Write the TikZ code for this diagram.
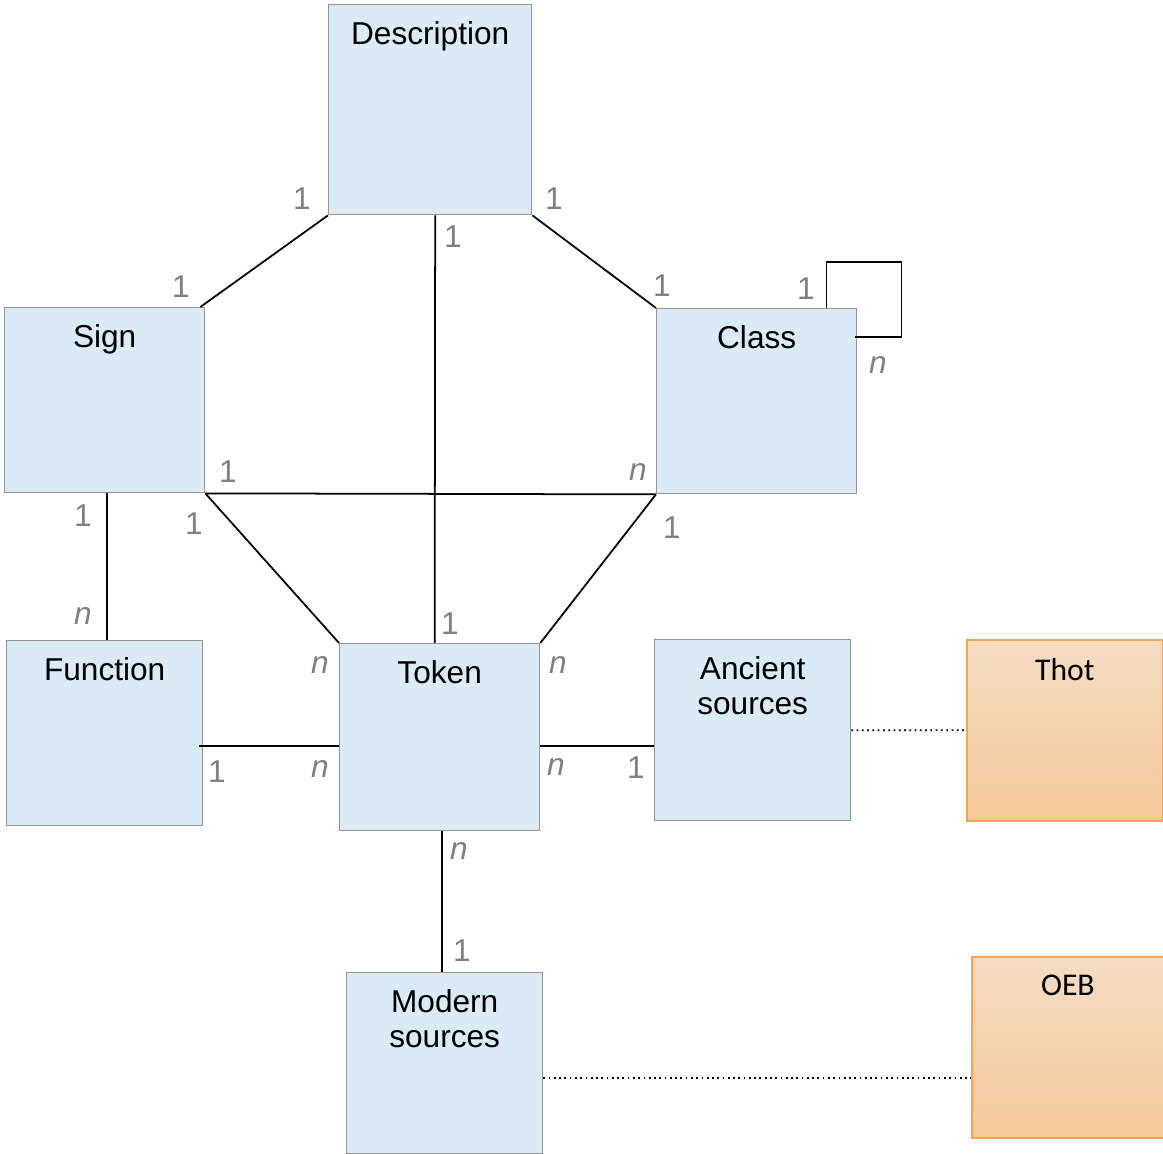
\documentclass[tikz,border=0pt]{standalone}
\usepackage{fontspec}
\setmainfont{Liberation Sans}
\newfontfamily\calibri{Carlito}
\usepackage{tikz}
\usetikzlibrary{positioning,calc,shadings}
\definecolor{cEnt}  {HTML}{DAEBF6}
\definecolor{cEdge} {HTML}{959595}
\definecolor{cSrc}  {HTML}{F7A356}
\definecolor{cSrcT} {HTML}{F4DCC3}
\definecolor{cSrcB} {HTML}{F4C99A}
\definecolor{cLbl}  {HTML}{808080}
\tikzset{
  ent/.style={draw=cEdge,fill=cEnt,line width=0.8pt,inner sep=0pt,
              minimum width=4cm,minimum height=3.7cm,anchor=north west},
  esrc/.style={ent,minimum width=3.92cm,minimum height=3.62cm},
  ext/.style ={esrc,draw=cSrc,top color=cSrcT,bottom color=cSrcB,line width=1pt},
  ttl/.style ={anchor=north,inner sep=0pt,align=center,yshift=-0.34cm,
               font=\fontsize{18}{20}\selectfont},
  xttl/.style={ttl,yshift=-0.04cm,font=\calibri\fontsize{18}{20}\selectfont},
  mult/.style={text=cLbl,inner sep=0pt,font=\fontsize{18}{20}\selectfont},
  multn/.style={mult,font=\fontsize{18}{20}\selectfont\itshape},
  link/.style={line width=1pt},
  dots/.style={line width=1pt,dotted},
}
\begin{document}
\begin{tikzpicture}[x=0.02cm,y=-0.02cm]
  \useasboundingbox (0,0) rectangle (1163,1153);
  \node[ent,minimum width=4.06cm,minimum height=4.2cm,label={[ttl]north:Description}] (desc) at (328,4) {};
  \node[ent,label={[ttl]north:Sign}] (sign) at (4,307) {};
  \node[ent,label={[ttl]north:Class}] (cls) at (656,308) {};
  \node[ent,minimum width=3.92cm,label={[ttl]north:Function}] (fun) at (6,640) {};
  \node[ent,minimum height=3.74cm,label={[ttl]north:Token}] (tok) at (339,643) {};
  \node[esrc,label={[ttl]north:Ancient\\sources}] (anc) at (654,639) {};
  \node[esrc,label={[ttl]north:Modern\\sources}] (mod) at (346,972) {};
  \node[ext,label={[xttl]north:Thot}] (thot) at (966,639) {};
  \node[ext,minimum width=3.84cm,label={[xttl]north:OEB}] (oeb) at (971,956) {};

  \draw[link] (desc.south west) -- ([xshift=-0.1cm]sign.north east);
  \draw[link] (desc.south east) -- (cls.north west);
  \draw[link] ([xshift=0.1cm]desc.south) -- ([xshift=-0.1cm]tok.north);
  \draw[link] (sign.south east) -- (cls.south west);
  \draw[link] (sign.south east) -- (tok.north west);
  \draw[link] (cls.south west) -- (tok.north east);
  \draw[link] ([xshift=0.04cm]sign.south) -- ([xshift=0.04cm]sign.south |- fun.north);
  \draw[link] ([yshift=-0.17cm]tok.west) -- ([yshift=-0.17cm,xshift=-0.08cm]tok.west -| fun.east);
  \draw[link] ([yshift=-0.17cm]tok.east) -- ([yshift=-0.17cm]tok.east -| anc.west);
  \draw[link] ([xshift=0.05cm]tok.south) -- ([xshift=0.05cm]tok.south |- mod.north);
  \draw[link] ([xshift=-0.62cm]cls.north east) |- ++(75,-46) |- ([yshift=-0.58cm,xshift=-0.04cm]cls.north east);
  \draw[dots] (anc.east) -- (thot.west);
  \draw[dots] ([yshift=-0.3cm]mod.east) -- ([yshift=-0.3cm]mod.east -| oeb.west);

  \node[mult] (m-ds) at (302,199) {1};
  \node[mult] (m-dc) at (554,199) {1};
  \node[mult] (m-dt) at (453,237) {1};
  \node[mult] (m-sd) at (181,287) {1};
  \node[mult] (m-cd) at (662,286) {1};
  \node[mult] (m-cc) at (806,289) {1};
  \node[multn] (m-cn) at (878,365) {n};
  \node[mult] (m-sc) at (228,472) {1};
  \node[multn] (m-cs) at (638,472) {n};
  \node[mult] (m-sf) at (83,516) {1};
  \node[mult] (m-st) at (194,524) {1};
  \node[mult] (m-ct) at (672,528) {1};
  \node[multn] (m-fs) at (83,616) {n};
  \node[mult] (m-td) at (450,624) {1};
  \node[multn] (m-ts) at (320,665) {n};
  \node[multn] (m-tc) at (558,665) {n};
  \node[mult] (m-ft) at (217,772) {1};
  \node[multn] (m-tf) at (320,769) {n};
  \node[multn] (m-ta) at (556,767) {n};
  \node[mult] (m-at) at (636,768) {1};
  \node[multn] (m-tm) at (459,851) {n};
  \node[mult] (m-mt) at (462,951) {1};
\end{tikzpicture}
\end{document}
